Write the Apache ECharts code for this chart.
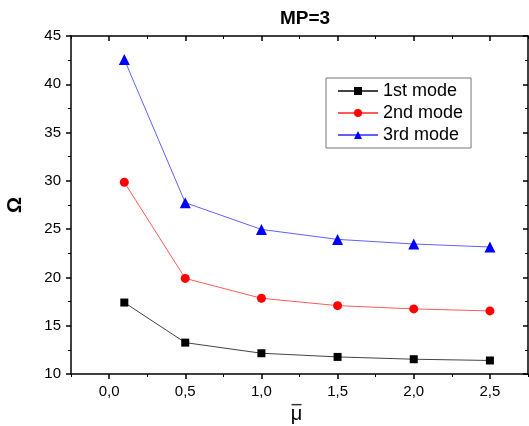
<!DOCTYPE html>
<html>
<head>
<meta charset="utf-8">
<script src="https://cdn.jsdelivr.net/npm/echarts@6/dist/echarts.min.js"></script>
<style>html,body{margin:0;padding:0;background:#fff;}#c{width:529px;height:426px;}</style>
</head>
<body>
<div id="c"></div>
<script>
const xValues = [0.1, 0.5, 1.0, 1.5, 2.0, 2.5];
const mode1 = [17.4, 13.25, 12.15, 11.77, 11.53, 11.4];
const mode2 = [29.85, 19.9, 17.84, 17.08, 16.74, 16.53];
const mode3 = [42.57, 27.74, 24.97, 23.94, 23.46, 23.15];
const seriesNames = ['1st mode', '2nd mode', '3rd mode'];
const xMajor = [0, 0.5, 1.0, 1.5, 2.0, 2.5];
const xMinor = [-0.25, 0.25, 0.75, 1.25, 1.75, 2.25, 2.75];

const font = 'Arial, "Liberation Sans", sans-serif';
const pair = arr => xValues.map((x, i) => [x, arr[i]]);
const axisLine = { show: true, onZero: false, lineStyle: { color: '#000', width: 1.5 } };
const xBase = { type: 'value', min: -0.25, max: 2.75, splitLine: { show: false } };

const chart = echarts.init(document.getElementById('c'));
chart.setOption({
  animation: false,
  title: { text: 'MP=3', left: 300, top: 4, textAlign: 'center',
    textStyle: { fontFamily: font, fontSize: 19, fontWeight: 'bold', color: '#000' } },
  grid: { left: 71, top: 36, right: 1, bottom: 52, outerBoundsMode: 'none', containLabel: false },
  legend: {
    orient: 'vertical', left: 326, top: 78,
    data: seriesNames,
    itemWidth: 40, itemHeight: 10, itemGap: 4,
    padding: [4, 8, 4, 11],
    borderColor: '#777', borderWidth: 1,
    textStyle: { fontFamily: font, fontSize: 18, color: '#000' }
  },
  xAxis: [
    Object.assign({}, xBase, {
      position: 'bottom', axisLine: axisLine,
      axisTick: { show: true, customValues: xMajor, length: 5, lineStyle: { color: '#000', width: 1.5 } },
      axisLabel: { customValues: xMajor, margin: 10, fontFamily: font, fontSize: 15, color: '#000',
        formatter: v => v.toFixed(1).replace('.', ',') },
      name: '{o| }\n{m|μ}', nameLocation: 'middle', nameGap: 27,
      nameTextStyle: { fontFamily: font, fontSize: 20, color: '#000', verticalAlign: 'top',
        align: 'center', padding: [0, 6, 0, 0],
        rich: {
          o: { fontSize: 1, width: 10, height: 1.5, lineHeight: 4, backgroundColor: '#333' },
          m: { fontFamily: font, fontSize: 20, lineHeight: 15, color: '#000' }
        } }
    }),
    Object.assign({}, xBase, {
      position: 'bottom', axisLine: { show: false, onZero: false },
      axisTick: { show: true, customValues: xMinor, length: 3, lineStyle: { color: '#000', width: 1 } },
      axisLabel: { show: false }
    }),
    Object.assign({}, xBase, {
      position: 'top', axisLine: axisLine,
      axisTick: { show: true, inside: true, customValues: xMajor, length: 5, lineStyle: { color: '#000', width: 1.5 } },
      axisLabel: { show: false }
    }),
    Object.assign({}, xBase, {
      position: 'top', axisLine: { show: false, onZero: false },
      axisTick: { show: true, inside: true, customValues: xMinor, length: 3, lineStyle: { color: '#000', width: 1 } },
      axisLabel: { show: false }
    })
  ],
  yAxis: [
    {
      type: 'value', min: 10, max: 45, interval: 5, position: 'left',
      axisLine: axisLine, splitLine: { show: false },
      axisTick: { show: true, length: 5, lineStyle: { color: '#000', width: 1.5 } },
      minorTick: { show: true, splitNumber: 2, length: 3, lineStyle: { color: '#000', width: 1 } },
      axisLabel: { margin: 10, fontFamily: font, fontSize: 15, color: '#000' },
      name: 'Ω', nameLocation: 'middle', nameGap: 46, nameRotate: 90,
      nameTextStyle: { fontFamily: font, fontSize: 20, fontWeight: 'bold', color: '#000' }
    },
    {
      type: 'value', min: 10, max: 45, interval: 5, position: 'right',
      axisLine: axisLine, splitLine: { show: false },
      axisTick: { show: true, inside: true, length: 5, lineStyle: { color: '#000', width: 1.5 } },
      minorTick: { show: true, splitNumber: 2, length: 3, lineStyle: { color: '#000', width: 1 } },
      axisLabel: { show: false }
    }
  ],
  series: [
    { name: seriesNames[0], type: 'line', data: pair(mode1), symbol: 'rect', symbolSize: 8,
      itemStyle: { color: '#000' }, lineStyle: { color: '#444', width: 1 } },
    { name: seriesNames[1], type: 'line', data: pair(mode2), symbol: 'circle', symbolSize: 9,
      itemStyle: { color: '#ff0000' }, lineStyle: { color: '#ff5a5a', width: 1 } },
    { name: seriesNames[2], type: 'line', data: pair(mode3), symbol: 'triangle', symbolSize: 11,
      itemStyle: { color: '#0000ff' }, lineStyle: { color: '#6060ff', width: 1 } }
  ]
});
</script>
</body>
</html>
